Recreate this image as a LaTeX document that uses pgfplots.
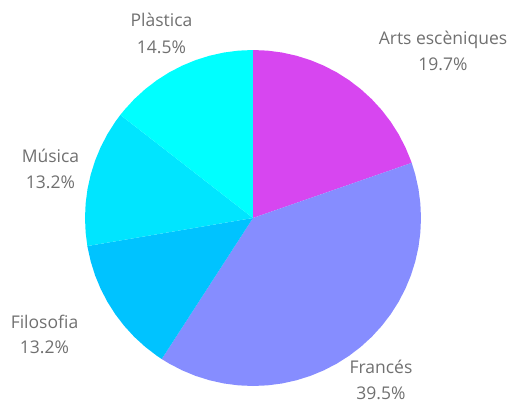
\documentclass[border=0pt]{standalone}
\usepackage{fontspec}
\setmainfont{Open Sans}
\usepackage{pgfplots}
\pgfplotsset{compat=1.18}
\usepgfplotslibrary{polar}
\definecolor{cArts}{HTML}{D746F0}
\definecolor{cFran}{HTML}{868DFF}
\definecolor{cFilo}{HTML}{00C3FF}
\definecolor{cMus}{HTML}{00E5FF}
\definecolor{cPla}{HTML}{00FFFF}
\definecolor{txt}{HTML}{707070}
\begin{document}
\begin{tikzpicture}[x=1pt,y=1pt]
\useasboundingbox (0,0) rectangle (507,405);
\begin{polaraxis}[
  at={(253pt,187pt)}, anchor=center,
  scale only axis, width=336pt, height=336pt,
  xmin=0, xmax=360, ymin=0, ymax=1,
  hide axis, clip=false,
]
% Arts escèniques 19.7%
\addplot[fill=cArts, draw=none, mark=none] coordinates {(0,0) (90,1) (85,1) (80,1) (75,1) (70,1) (65,1) (60,1) (55,1) (50,1) (45,1) (40,1) (35,1) (30,1) (25,1) (20,1) (19.15,1)};
% Francés 39.5%
\addplot[fill=cFran, draw=none, mark=none] coordinates {(0,0) (19.15,1) (15,1) (10,1) (5,1) (0,1) (-5,1) (-10,1) (-15,1) (-20,1) (-25,1) (-30,1) (-35,1) (-40,1) (-45,1) (-50,1) (-55,1) (-60,1) (-65,1) (-70,1) (-75,1) (-80,1) (-85,1) (-90,1) (-95,1) (-100,1) (-105,1) (-110,1) (-115,1) (-120,1) (-122.91,1)};
% Filosofia 13.2%
\addplot[fill=cFilo, draw=none, mark=none] coordinates {(0,0) (-122.91,1) (-125,1) (-130,1) (-135,1) (-140,1) (-145,1) (-150,1) (-155,1) (-160,1) (-165,1) (-170,1) (-170.38,1)};
% Música 13.2%
\addplot[fill=cMus, draw=none, mark=none] coordinates {(0,0) (-170.38,1) (-175,1) (-180,1) (-185,1) (-190,1) (-195,1) (-200,1) (-205,1) (-210,1) (-215,1) (-217.85,1)};
% Plàstica 14.5%
\addplot[fill=cPla, draw=none, mark=none] coordinates {(0,0) (-217.85,1) (-220,1) (-225,1) (-230,1) (-235,1) (-240,1) (-245,1) (-250,1) (-255,1) (-260,1) (-265,1) (-270,1)};
\end{polaraxis}
\begin{scope}[every node/.style={anchor=base, text=txt, font=\fontsize{17.5}{26}\selectfont, inner sep=0pt}]
\node at (161.5,378.3) {Plàstica};
\node at (161.5,351.7) {14.5\%};
\node at (443,360.7) {Arts escèniques};
\node at (443,334.3) {19.7\%};
\node at (50.5,242.3) {Música};
\node at (50.5,216) {13.2\%};
\node at (44.5,76.7) {Filosofia};
\node at (44.5,51.7) {13.2\%};
\node at (381,31) {Francés};
\node at (381,5.5) {39.5\%};
\end{scope}
\end{tikzpicture}
\end{document}
